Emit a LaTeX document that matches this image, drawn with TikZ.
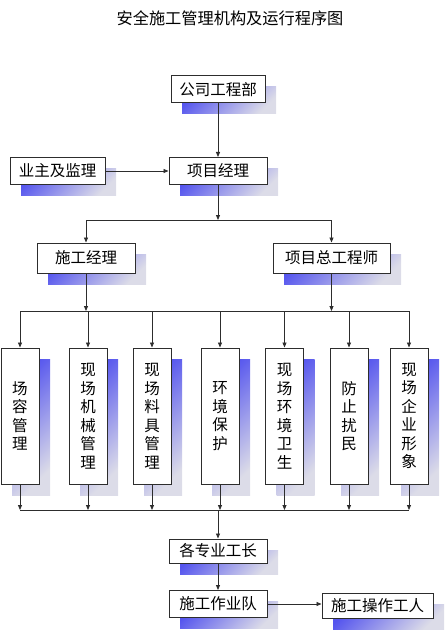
\documentclass[tikz,border=0pt]{standalone}
\usepackage{fontspec}
\setmainfont{Noto Sans CJK SC}
\usetikzlibrary{arrows.meta,shadows}
\definecolor{shadeblue}{RGB}{85,85,238}
\definecolor{shadegray}{RGB}{220,220,232}
\definecolor{linegray}{RGB}{45,45,45}

\begin{document}
\begin{tikzpicture}[x=1pt, y=-1pt,
    box/.style={draw=linegray, line width=1pt, fill=white, inner sep=0pt,
      font=\fontsize{15.5}{18.5}\selectfont,
      general shadow={shadow xshift=11pt, shadow yshift=-11pt,
        top color=shadeblue, bottom color=shadegray, shading angle=45}},
    hbox/.style={box, minimum height=27pt},
    vbox/.style={box, minimum width=38pt, minimum height=136pt, align=center},
    link/.style={draw=linegray, line width=0.8pt},
    arr/.style={link, -{Triangle[length=5pt,width=4pt]}}]

        \useasboundingbox (0,0) rectangle (446,631);

        %Title
        \node (title) at (230,18) {\fontsize{16.2}{18}\selectfont 安全施工管理机构及运行程序图};

        %Upper levels
        \node [hbox, minimum width=94pt] (gsgcb) at (218,89.5) {公司工程部};
        \node [hbox, minimum width=98pt] (xmjl) at (218,171) {项目经理};
        \node [hbox, minimum width=95pt] (yzjl) at (57.5,171) {业主及监理};
        \node [hbox, minimum width=98pt, minimum height=30pt] (sgjl) at (86,258) {施工经理};
        \node [hbox, minimum width=117pt, minimum height=30pt] (zgcs) at (331.5,258) {项目总工程师};

        %Site tasks
        \node [vbox] (cr) at (20,416)  {场\\容\\管\\理};
        \node [vbox] (jx) at (88,416)  {现\\场\\机\\械\\管\\理};
        \node [vbox] (lj) at (152,416) {现\\场\\料\\具\\管\\理};
        \node [vbox] (hb) at (220,416) {环\\境\\保\\护};
        \node [vbox] (ws) at (284.5,416) {现\\场\\环\\境\\卫\\生};
        \node [vbox] (fr) at (349,416) {防\\止\\扰\\民};
        \node [vbox] (xx) at (409,416) {现\\场\\企\\业\\形\\象};

        %Lower levels
        \node [hbox, minimum width=98pt, minimum height=24pt] (gzgz) at (218,551) {各专业工长};
        \node [hbox, minimum width=98pt] (sgd) at (218,604) {施工作业队};
        \node [hbox, minimum width=111pt, minimum height=25pt] (czgr) at (377.5,605.5) {施工操作工人};

        %Junctions
        \coordinate (split1) at (218,220);
        \coordinate (split2) at (218,311);
        \coordinate (merge) at (218,510);

        %Connectors top
        \draw [arr] (gsgcb) -- (xmjl);
        \draw [arr] (yzjl) -- (xmjl);
        \draw [arr] (xmjl) -- (split1);
        \draw [link] (split1 -| sgjl) -- (split1 -| zgcs);
        \draw [arr] (split1 -| sgjl) -- (sgjl);
        \draw [arr] (split1 -| zgcs) -- (zgcs);
        \draw [arr] (sgjl) -- (sgjl |- split2);
        \draw [arr] (zgcs) -- (zgcs |- split2);

        %Connectors to tasks
        \draw [link] (split2 -| cr) -- (split2 -| xx);
        \draw [arr] (split2 -| cr) -- (cr);
        \draw [arr] (split2 -| jx) -- (jx);
        \draw [arr] (split2 -| lj) -- (lj);
        \draw [arr] (split2 -| hb) -- (hb);
        \draw [arr] (split2 -| ws) -- (ws);
        \draw [arr] (split2 -| fr) -- (fr);
        \draw [arr] (split2 -| xx) -- (xx);

        %Connectors from tasks
        \draw [arr] (cr) -- (cr |- merge);
        \draw [arr] (jx) -- (jx |- merge);
        \draw [arr] (lj) -- (lj |- merge);
        \draw [arr] (hb) -- (hb |- merge);
        \draw [arr] (ws) -- (ws |- merge);
        \draw [arr] (fr) -- (fr |- merge);
        \draw [arr] (xx) -- (xx |- merge);
        \draw [link] (merge -| cr) -- (merge -| xx);

        %Connectors bottom
        \draw [arr] (merge) -- (gzgz);
        \draw [arr] (gzgz) -- (sgd);
        \draw [arr] (sgd.east) -- (czgr.west |- sgd.east);
      \end{tikzpicture}
\end{document}
